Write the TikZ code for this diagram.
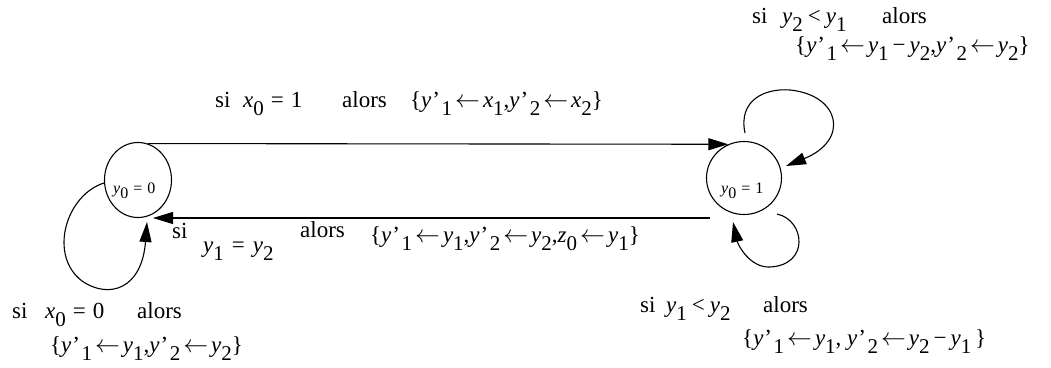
\documentclass[tikz,border=0pt]{standalone}
\usepackage{fontspec}
\setmainfont{Liberation Serif}
\usetikzlibrary{arrows.meta,shapes.geometric}
\newcommand\iv[1]{\textit{#1}}
\newcommand\sbs[1]{\raisebox{-8pt}{\fontsize{21}{21}\selectfont #1}}
\newcommand\yp{\textit{y}\kern1pt’\kern1.5pt}
\newcommand\la{\hspace{3pt}$\leftarrow$\hspace{3pt}}
\begin{document}
\begin{tikzpicture}[x=1pt,y=-1pt,
  every node/.style={inner sep=0pt, anchor=base west, font=\fontsize{23}{25}\selectfont},
  state/.style={draw, ellipse, line width=1.1pt, anchor=center},
  edge/.style={line width=1.1pt, -{Triangle[length=20pt,width=12pt]}}]
\useasboundingbox (0,0) rectangle (1051,367);
\node[state, minimum width=67pt, minimum height=75pt] (L) at (138,180) {};
\node[state, minimum width=75pt, minimum height=73pt] (R) at (744,178) {};
\node (Lt) at (113,193) {\fontsize{16}{16}\selectfont\iv{y}\raisebox{-5pt}{0}\hspace{5pt}=\hspace{5pt}0};
\node (Rt) at (721,193) {\fontsize{16}{16}\selectfont\iv{y}\raisebox{-5pt}{0}\hspace{5pt}=\hspace{5pt}1};
% top transition
\draw[edge] (L.75) -- (R.115);
\node (t1) at (215,107) {si};
\node (t2) at (243,107) {\iv{x}\sbs{0}\hspace{7pt}=\hspace{7pt}1};
\node (t3) at (342,107) {alors};
\node (t4) at (410,107) {\{\yp\sbs{1}\la\iv{x}\sbs{1},\yp\sbs{2}\la\iv{x}\sbs{2}\}};
% bottom transition
\coordinate (bs) at (710,218);
\coordinate (bt) at (153,218);
\draw[edge] (bs) -- (bt);
\node (b1) at (172,238) {si};
\node (b2) at (203,252) {\iv{y}\sbs{1}\hspace{8pt}=\hspace{8pt}\iv{y}\sbs{2}};
\node (b3) at (300,237) {alors};
\node (b4) at (370,242) {\{\yp\sbs{1}\la\iv{y}\sbs{1},\yp\sbs{2}\la\iv{y}\sbs{2},\iv{z}\sbs{0}\la\iv{y}\sbs{1}\}};
% left loop
\coordinate (le) at (147,222);
\draw[edge] (L.185) .. controls (66,195) and (48,255) .. (82,281) .. controls (110,300) and (142,288) .. (le);
\node (l1) at (12,318) {si};
\node (l2) at (45,318) {\iv{x}\sbs{0}\hspace{7pt}=\hspace{7pt}0};
\node (l3) at (137,318) {alors};
\node (l4) at (50,352) {\{\yp\sbs{1}\la\iv{y}\sbs{1},\yp\sbs{2}\la\iv{y}\sbs{2}\}};
% right top loop
\coordinate (rts) at (745,133);
\coordinate (rte) at (786,166);
\draw[edge] (rts) .. controls (738,100) and (765,88) .. (790,90) .. controls (840,95) and (850,140) .. (rte);
\node (r1) at (752,23) {si};
\node (r2) at (782,23) {\iv{y}\sbs{2}\hspace{5pt}<\hspace{5pt}\iv{y}\sbs{1}};
\node (r3) at (882,23) {alors};
\node (r4) at (795,52) {\{\yp\sbs{1}\la\iv{y}\sbs{1}\hspace{4pt}−\hspace{4pt}\iv{y}\sbs{2},\yp\sbs{2}\la\iv{y}\sbs{2}\}};
% right bottom loop
\coordinate (rbs) at (777,214);
\coordinate (rbe) at (733,222);
\draw[edge] (rbs) .. controls (805,220) and (810,265) .. (770,267) .. controls (750,268) and (738,245) .. (rbe);
\node (s1) at (640,312) {si};
\node (s2) at (666,312) {\iv{y}\sbs{1}\hspace{5pt}<\hspace{5pt}\iv{y}\sbs{2}};
\node (s3) at (763,312) {alors};
\node (s4) at (742,345) {\{\yp\sbs{1}\la\iv{y}\sbs{1}, \yp\sbs{2}\la\iv{y}\sbs{2}\hspace{4pt}−\hspace{4pt}\iv{y}\sbs{1}\,\}};
\end{tikzpicture}
\end{document}
